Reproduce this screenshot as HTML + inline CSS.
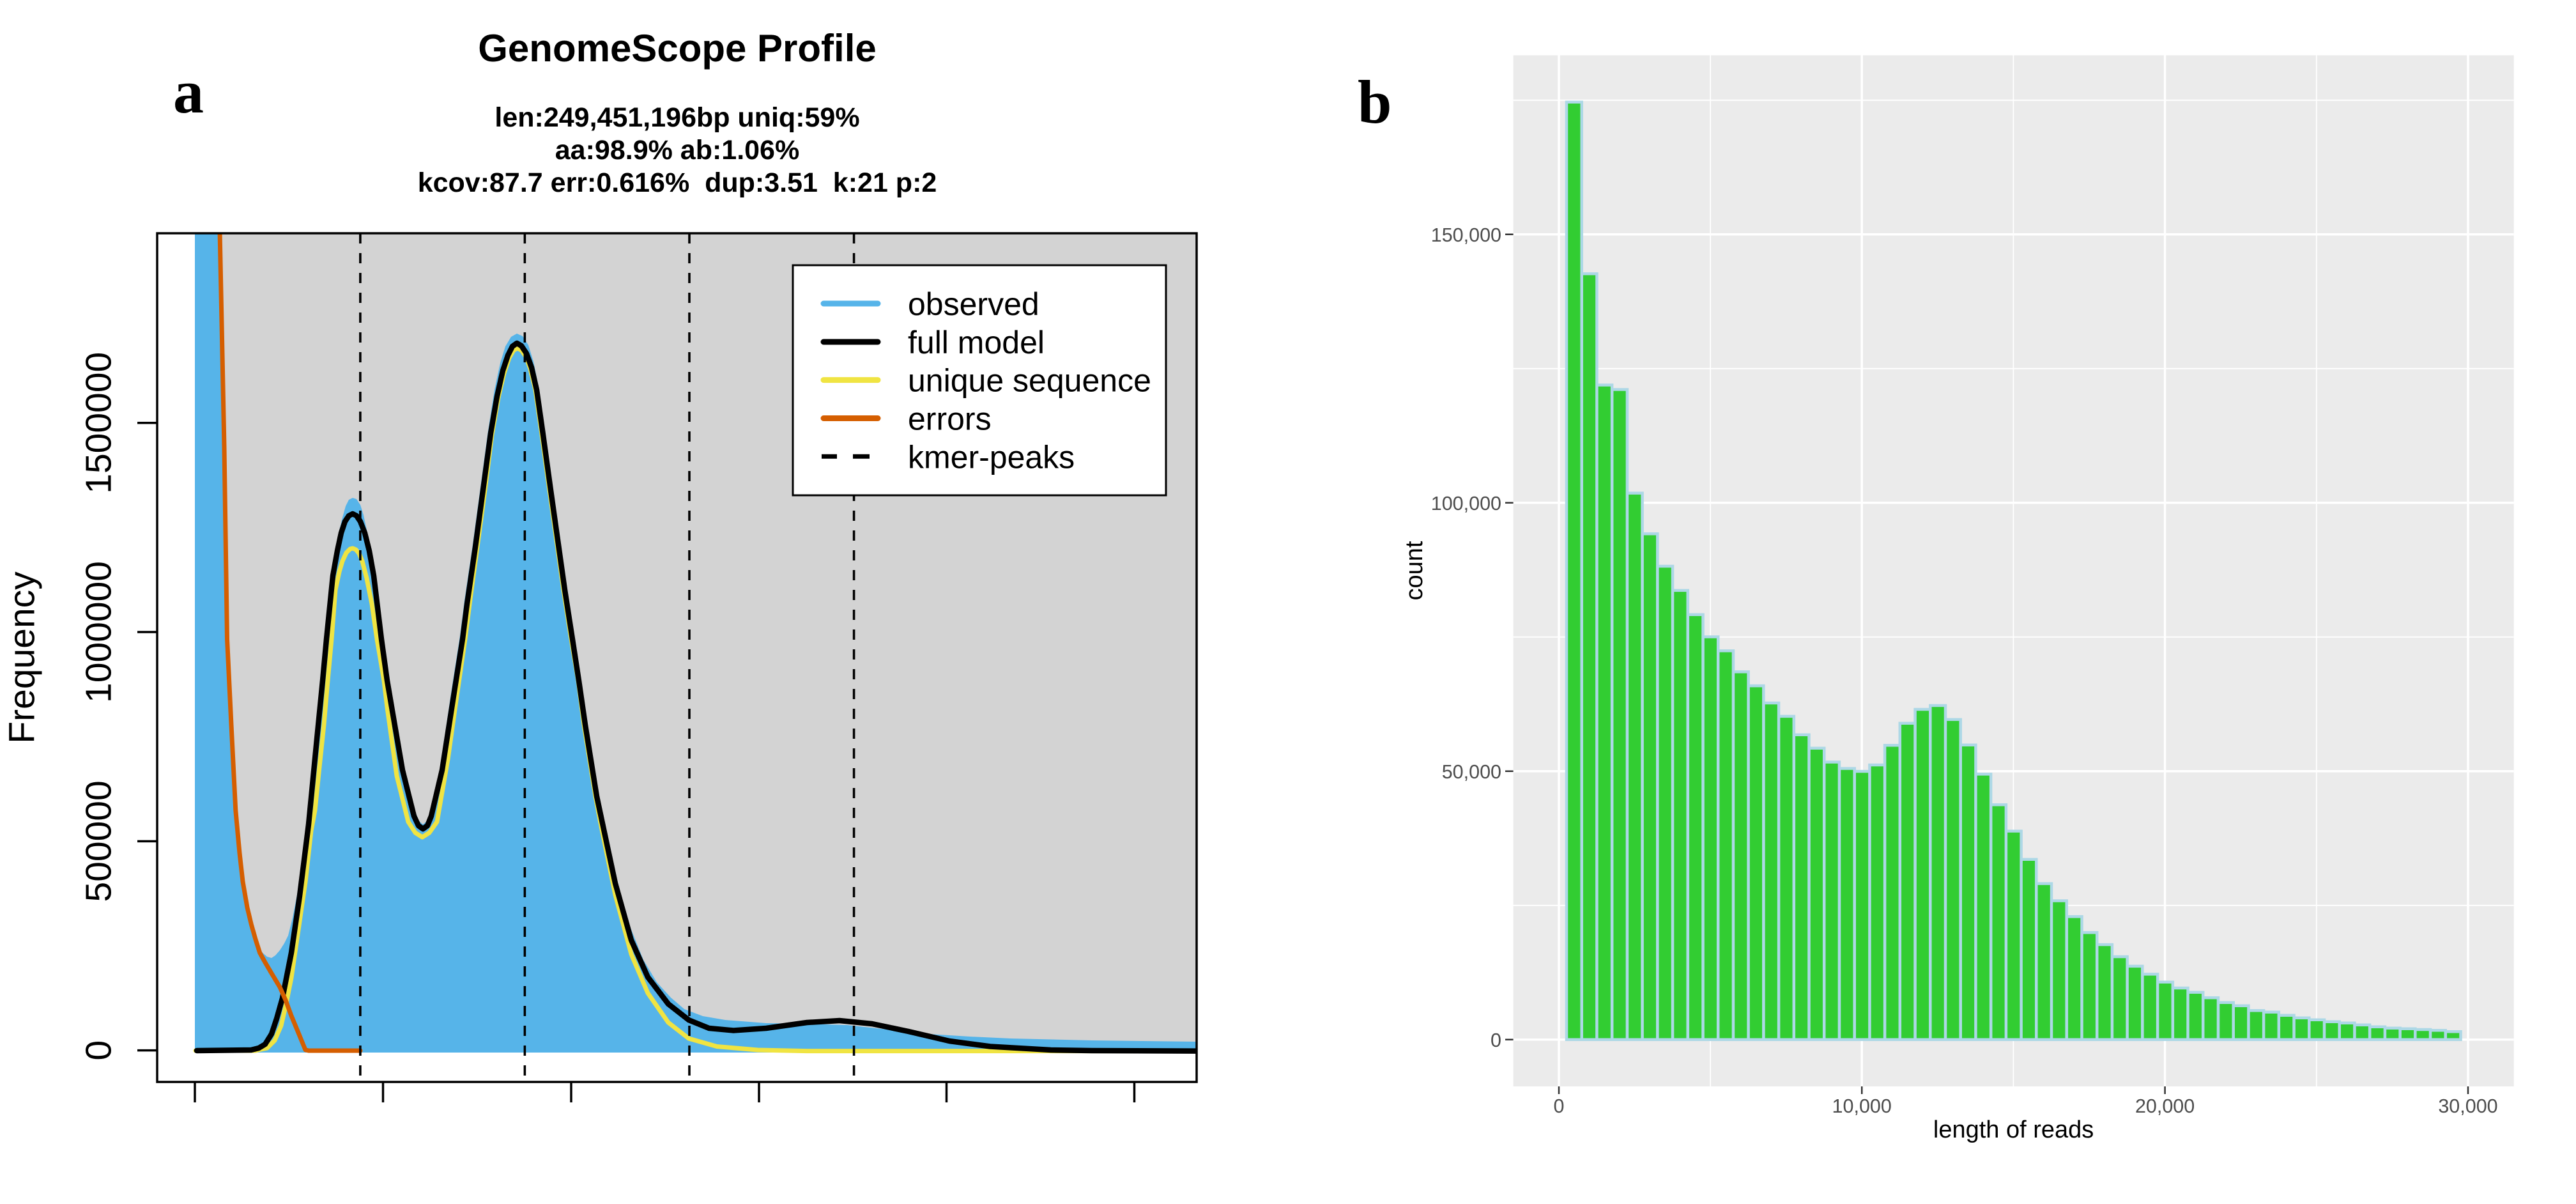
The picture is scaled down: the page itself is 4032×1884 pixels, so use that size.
<!DOCTYPE html>
<html><head><meta charset="utf-8"><style>
html,body{margin:0;padding:0;background:#fff;}
svg{display:block;}
text{font-family:"Liberation Sans",Arial,sans-serif;}
text.serif{font-family:"Liberation Serif","Times New Roman",serif;}
</style></head><body>
<svg width="4032" height="1884" viewBox="0 0 4032 1884" xmlns="http://www.w3.org/2000/svg">
<rect x="0" y="0" width="4032" height="1884" fill="#fff"/>
<defs><clipPath id="cp"><rect x="246" y="365" width="1627" height="1328"/></clipPath></defs>

<text class="serif" x="271" y="176" font-weight="bold" font-size="96" style="font-family:'Liberation Serif',serif">a</text>
<text x="1060" y="96" text-anchor="middle" font-weight="bold" font-size="60">GenomeScope Profile</text>
<text x="1060" y="198" text-anchor="middle" font-weight="bold" font-size="43">len:249,451,196bp uniq:59%</text>
<text x="1060" y="249" text-anchor="middle" font-weight="bold" font-size="43">aa:98.9% ab:1.06%</text>
<text x="1060" y="300" text-anchor="middle" font-weight="bold" font-size="43">kcov:87.7 err:0.616%&#160; dup:3.51&#160; k:21 p:2</text>

<g clip-path="url(#cp)">
<rect x="305" y="365" width="1568" height="1282" fill="#D3D3D3"/>
<path fill="#56B4E9" d="M305,1647 L305,365 L344,365 L351,700 L355.5,1000 L362,1134 L369,1268 L380,1380 L393,1446 L402,1475 L411,1491 L418,1497 L425,1499 L431,1495 L438,1487 L445,1476 L451,1464 L458,1436 L465,1400 L472,1350 L479,1290 L492,1156 L501,1065 L507,1000 L517,901 L524,862 L530,834 L536,810 L541,792 L546,782 L552,779 L558,781 L564,790 L569,806 L575,834 L582,862 L589,901 L600,1000 L609,1065 L617,1112 L633,1200 L650,1270 L656,1285 L662,1290 L668,1285 L673,1270 L689,1200 L706,1085 L720,995 L727,940 L740,852 L752,763 L764,674 L774,610 L783,568 L791,542 L800,527 L809,522 L818,526 L827,540 L835,566 L843,605 L853,677 L865,765 L876,843 L887,921 L899,1000 L909,1065 L919,1134 L928,1190 L937,1246 L947,1293 L967,1383 L987,1452 L1007,1502 L1028,1537 L1050,1561 L1071,1579 L1100,1590 L1135,1596 L1199,1601 L1263,1602 L1326,1604 L1390,1611 L1454,1618 L1518,1622 L1582,1625 L1709,1628 L1873,1630 L1873,1647 Z"/>
<path fill="none" stroke="#F0E442" stroke-width="7" stroke-linejoin="round" stroke-linecap="round" d="M306,1644 L400,1644 L418,1640 L430,1628 L440,1605 L448,1570 L456,1530 L466,1462 L478,1380 L487,1300 L493,1268 L500,1200 L507,1134 L513,1065 L519,1000 L525,923 L531,895 L536,878 L542,865 L548,859 L552,858 L557,860 L562,866 L567,878 L574,905 L582,945 L590,1000 L601,1065 L606,1107 L621,1214 L639,1286 L650,1303 L661,1310 L672,1303 L684,1286 L701,1188 L715,1089 L728,1000 L735,945 L747,856 L759,767 L770,680 L780,622 L789,584 L797,560 L804,548 L810,545 L816,548 L823,558 L830,577 L838,610 L848,680 L860,767 L871,845 L882,923 L894,1000 L905,1065 L914,1134 L923,1190 L932,1246 L941,1293 L963,1400 L988,1493 L1014,1554 L1046,1600 L1078,1625 L1122,1637.5 L1186,1643 L1263,1644.6 L1872,1644.6"/>
<path fill="none" stroke="#000" stroke-width="8.5" stroke-linejoin="round" stroke-linecap="round" d="M308,1644 L393,1643 L405,1640 L415,1634 L425,1618 L433,1594 L442,1562 L456,1491 L469,1402 L483,1290 L496,1156 L505,1065 L511,1000 L521,901 L528,862 L534,834 L540,816 L546,807 L552,804 L558,807 L564,816 L571,834 L578,862 L585,901 L597,1000 L606,1065 L614,1112 L630,1205 L648,1277 L655,1292 L662,1297 L669,1292 L675,1277 L692,1205 L710,1089 L724,1000 L731,945 L744,856 L756,767 L768,678 L778,620 L787,580 L795,556 L802,542 L809,537 L816,541 L824,553 L832,575 L840,610 L850,680 L862,767 L873,845 L884,923 L896,1000 L906,1065 L916,1134 L925,1190 L934,1246 L944,1293 L963,1382 L988,1471 L1014,1529 L1046,1571 L1078,1596 L1110,1609 L1148,1612.5 L1199,1609 L1263,1600 L1314,1597 L1365,1602 L1422,1614 L1486,1629 L1550,1637.5 L1645,1643 L1709,1644 L1872,1644.6"/>
<path fill="none" stroke="#D55E00" stroke-width="7" stroke-linejoin="round" stroke-linecap="round" d="M344,360 L351,700 L355.5,1000 L362,1134 L368.8,1268 L375,1335 L380,1379.5 L387,1420 L393.3,1446.4 L400,1470 L406.7,1491 L415,1506 L424.6,1522.3 L438,1544.6 L447,1565 L455.8,1589 L467,1616 L478,1642.8 L483,1644 L564,1644"/>
<path fill="none" stroke="#000" stroke-width="3.6" stroke-dasharray="16 15" d="M563.9,365V1693 M821.4,365V1693 M1079,365V1693 M1336.6,365V1693"/>
</g>

<rect x="1241" y="415" width="584" height="360" fill="#fff" stroke="#000" stroke-width="3"/>
<path stroke="#56B4E9" stroke-width="9" stroke-linecap="round" d="M1289,475H1374"/>
<path stroke="#000" stroke-width="9" stroke-linecap="round" d="M1289,535H1374"/>
<path stroke="#F0E442" stroke-width="9" stroke-linecap="round" d="M1289,594.6H1374"/>
<path stroke="#D55E00" stroke-width="9" stroke-linecap="round" d="M1289,654.5H1374"/>
<path stroke="#000" stroke-width="7" d="M1286,714.3H1310 M1335,714.3H1361"/>
<g font-size="50" fill="#000">
<text x="1421" y="493">observed</text>
<text x="1421" y="553">full model</text>
<text x="1421" y="612.6">unique sequence</text>
<text x="1421" y="672.5">errors</text>
<text x="1421" y="732.3">kmer-peaks</text>
</g>

<rect x="246" y="365" width="1627" height="1328" fill="none" stroke="#000" stroke-width="3.5"/>
<path stroke="#000" stroke-width="3.5" d="M215,1643.6H246 M215,1316.4H246 M215,989H246 M215,661.8H246 M305,1693V1725 M599.5,1693V1725 M894,1693V1725 M1188,1693V1725 M1481.5,1693V1725 M1775.5,1693V1725"/>
<g font-size="57" text-anchor="middle" fill="#000">
<text transform="translate(173.3,1643.6) rotate(-90)">0</text>
<text transform="translate(173.3,1316.4) rotate(-90)">500000</text>
<text transform="translate(173.3,989) rotate(-90)">1000000</text>
<text transform="translate(173.3,661.8) rotate(-90)">1500000</text>
<text transform="translate(53.3,1029) rotate(-90)">Frequency</text>
</g>

<text class="serif" x="2125" y="192" font-weight="bold" font-size="96" style="font-family:'Liberation Serif',serif">b</text>
<rect x="2368.6" y="86.5" width="1566.1" height="1613.5" fill="#EBEBEB"/>
<path stroke="#fff" stroke-width="1.8" d="M2368.6,1416.8H3934.7 M2368.6,996.8H3934.7 M2368.6,576.8H3934.7 M2368.6,156.8H3934.7 M2677.1,86.5V1700 M3151.4,86.5V1700 M3625.8,86.5V1700"/>
<path stroke="#fff" stroke-width="3.5" d="M2368.6,1626.8H3934.7 M2368.6,1206.8H3934.7 M2368.6,786.8H3934.7 M2368.6,366.8H3934.7 M2440,86.5V1700 M2914.2,86.5V1700 M3388.6,86.5V1700 M3863,86.5V1700"/>
<path fill="#32CD32" stroke="#ADD8E6" stroke-width="4.5" d="M2452.0,159.7h23.72V1626.8H2452.0Z M2475.7,428.4h23.72V1626.8H2475.7Z M2499.4,602.5h23.72V1626.8H2499.4Z M2523.2,609.5h23.72V1626.8H2523.2Z M2546.9,771.6h23.72V1626.8H2546.9Z M2570.6,835.3h23.72V1626.8H2570.6Z M2594.3,886h23.72V1626.8H2594.3Z M2618.0,923.9h23.72V1626.8H2618.0Z M2641.8,961.7h23.72V1626.8H2641.8Z M2665.5,996.5h23.72V1626.8H2665.5Z M2689.2,1018.4h23.72V1626.8H2689.2Z M2712.9,1051.2h23.72V1626.8H2712.9Z M2736.6,1073.1h23.72V1626.8H2736.6Z M2760.4,1100h23.72V1626.8H2760.4Z M2784.1,1120.9h23.72V1626.8H2784.1Z M2807.8,1149.8h23.72V1626.8H2807.8Z M2831.5,1170.7h23.72V1626.8H2831.5Z M2855.2,1192.5h23.72V1626.8H2855.2Z M2879.0,1202.5h23.72V1626.8H2879.0Z M2902.7,1207h23.72V1626.8H2902.7Z M2926.4,1197h23.72V1626.8H2926.4Z M2950.1,1166.2h23.72V1626.8H2950.1Z M2973.8,1131.8h23.72V1626.8H2973.8Z M2997.6,1110h23.72V1626.8H2997.6Z M3021.3,1104h23.72V1626.8H3021.3Z M3045.0,1125.9h23.72V1626.8H3045.0Z M3068.7,1165.7h23.72V1626.8H3068.7Z M3092.4,1211.4h23.72V1626.8H3092.4Z M3116.2,1259.2h23.72V1626.8H3116.2Z M3139.9,1300.5h23.72V1626.8H3139.9Z M3163.6,1344.8h23.72V1626.8H3163.6Z M3187.3,1382.6h23.72V1626.8H3187.3Z M3211.0,1409.5h23.72V1626.8H3211.0Z M3234.8,1434.3h23.72V1626.8H3234.8Z M3258.5,1459.2h23.72V1626.8H3258.5Z M3282.2,1478.1h23.72V1626.8H3282.2Z M3305.9,1497h23.72V1626.8H3305.9Z M3329.6,1511.9h23.72V1626.8H3329.6Z M3353.4,1524.4h23.72V1626.8H3353.4Z M3377.1,1536.8h23.72V1626.8H3377.1Z M3400.8,1546h23.72V1626.8H3400.8Z M3424.5,1552.7h23.72V1626.8H3424.5Z M3448.2,1561.3h23.72V1626.8H3448.2Z M3472.0,1568.7h23.72V1626.8H3472.0Z M3495.7,1573.7h23.72V1626.8H3495.7Z M3519.4,1581.3h23.72V1626.8H3519.4Z M3543.1,1583.7h23.72V1626.8H3543.1Z M3566.8,1588.7h23.72V1626.8H3566.8Z M3590.6,1592.7h23.72V1626.8H3590.6Z M3614.3,1595.7h23.72V1626.8H3614.3Z M3638.0,1598.7h23.72V1626.8H3638.0Z M3661.7,1600.7h23.72V1626.8H3661.7Z M3685.4,1603.7h23.72V1626.8H3685.4Z M3709.2,1606.7h23.72V1626.8H3709.2Z M3732.9,1608.7h23.72V1626.8H3732.9Z M3756.6,1609.7h23.72V1626.8H3756.6Z M3780.3,1611h23.72V1626.8H3780.3Z M3804.0,1612.3h23.72V1626.8H3804.0Z M3827.8,1614.3h23.72V1626.8H3827.8Z"/>
<path stroke="#333" stroke-width="2.5" d="M2356,1626.8H2368.6 M2356,1206.8H2368.6 M2356,786.8H2368.6 M2356,366.8H2368.6 M2440,1700V1712 M2914.2,1700V1712 M3388.6,1700V1712 M3863,1700V1712"/>
<g font-size="30.5" fill="#4D4D4D" text-anchor="end">
<text x="2350" y="1637.8">0</text>
<text x="2350" y="1217.8">50,000</text>
<text x="2350" y="797.8">100,000</text>
<text x="2350" y="377.8">150,000</text>
</g>
<g font-size="30.5" fill="#4D4D4D" text-anchor="middle">
<text x="2440" y="1741">0</text>
<text x="2914.2" y="1741">10,000</text>
<text x="3388.6" y="1741">20,000</text>
<text x="3863" y="1741">30,000</text>
</g>
<text x="3151.6" y="1780" font-size="38" text-anchor="middle" fill="#000">length of reads</text>
<text transform="translate(2226,893) rotate(-90)" font-size="38" text-anchor="middle" fill="#000">count</text>
</svg>
</body></html>
